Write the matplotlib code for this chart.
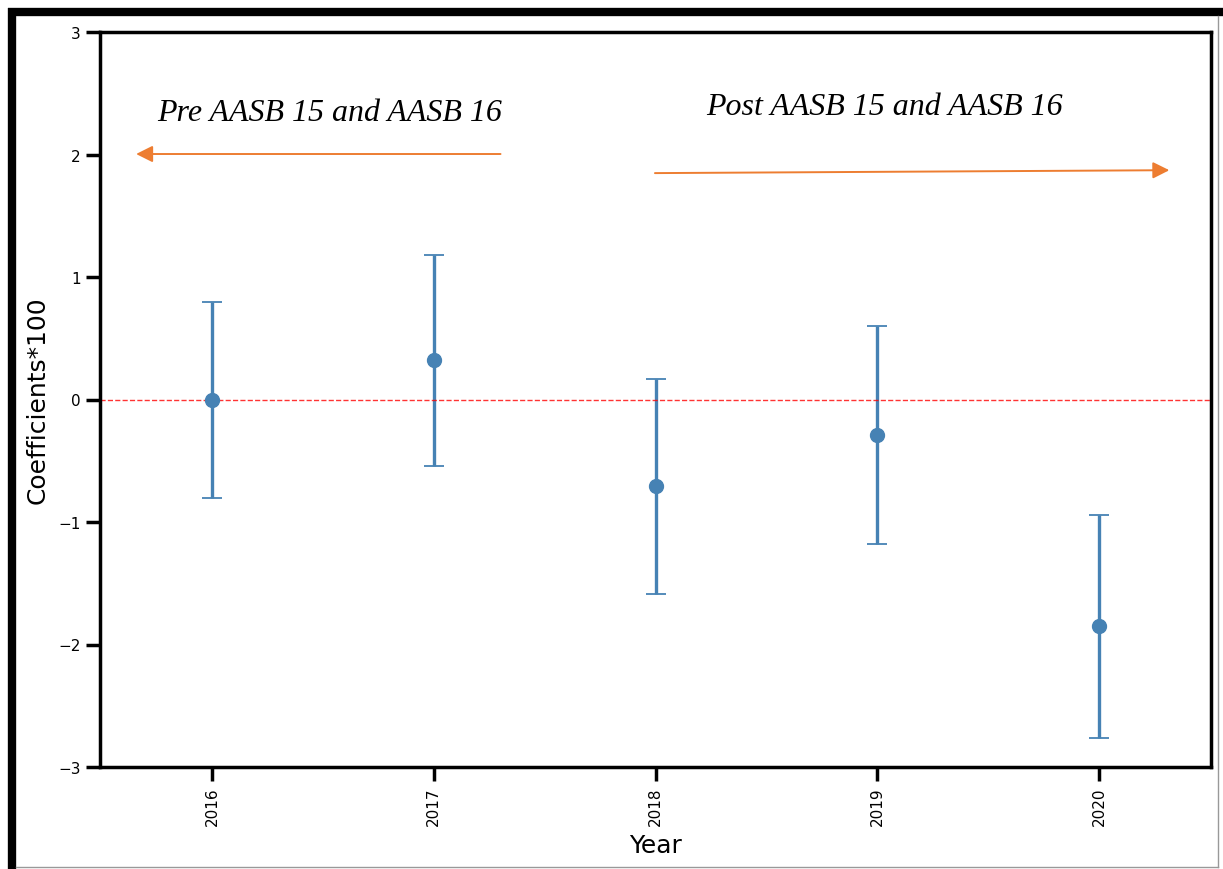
import matplotlib.pyplot as plt
from matplotlib.lines import Line2D

years = ['2016', '2017', '2018', '2019', '2020']
coef = [0.0, 0.32, -0.71, -0.29, -1.85]
err = [0.80, 0.86, 0.875, 0.89, 0.91]

W, H = 1223, 870
fig = plt.figure(figsize=(W / 100, H / 100), dpi=100)
ax = fig.add_axes([100 / W, 1 - 768 / H, 1111 / W, 735 / H])

x = list(range(len(years)))
ax.errorbar(x, coef, yerr=err, fmt='o', color='steelblue', ecolor='steelblue',
            markersize=10, elinewidth=2.4, capsize=7, capthick=1.3)
ax.axhline(0, color='red', linestyle='--', linewidth=1, alpha=0.8)

ax.set_xlim(-0.505, 4.505)
ax.set_ylim(-3, 3)
ax.set_xticks(x)
ax.set_xticklabels(years, rotation=90)
ax.set_yticks([-3, -2, -1, 0, 1, 2, 3])
ax.set_yticklabels(['\u22123', '\u22122', '\u22121', '0', '1', '2', '3'])
ax.tick_params(axis='both', length=10, width=2.5, labelsize=11, pad=4)
for s in ax.spines.values():
    s.set_linewidth(2.5)
ax.set_xlabel('Year', fontsize=18, labelpad=6)
ax.set_ylabel('Coefficients*100', fontsize=18, labelpad=6)

orange = '#ED7D31'
ax.annotate('', xy=(0.03, 0.834), xytext=(0.363, 0.834), xycoords='axes fraction',
            arrowprops=dict(arrowstyle='-|>', color=orange, lw=1.4, mutation_scale=25))
ax.annotate('', xy=(0.965, 0.812), xytext=(0.497, 0.808), xycoords='axes fraction',
            arrowprops=dict(arrowstyle='-|>', color=orange, lw=1.4, mutation_scale=25))
ax.text(0.207, 0.891, 'Pre AASB 15 and AASB 16', transform=ax.transAxes, ha='center',
        va='center', fontsize=23, style='italic', family='Liberation Serif')
ax.text(0.706, 0.898, 'Post AASB 15 and AASB 16', transform=ax.transAxes, ha='center',
        va='center', fontsize=23, style='italic', family='Liberation Serif')

# outer frame around the picture
fig.add_artist(Line2D([12 / W, 12 / W], [0, 1 - 9 / H], color='black', lw=6,
                      transform=fig.transFigure, solid_capstyle='butt'))
fig.add_artist(Line2D([8 / W, 1], [1 - 13 / H, 1 - 13 / H], color='black', lw=6,
                      transform=fig.transFigure, solid_capstyle='butt'))
fig.add_artist(Line2D([1218 / W, 1218 / W], [1 - 17 / H, 1 - 868 / H], color='#999999', lw=1,
                      transform=fig.transFigure))
fig.add_artist(Line2D([16 / W, 1218 / W], [1 - 868 / H, 1 - 868 / H], color='#999999', lw=1,
                      transform=fig.transFigure))

fig.savefig('out.png', dpi=100)
